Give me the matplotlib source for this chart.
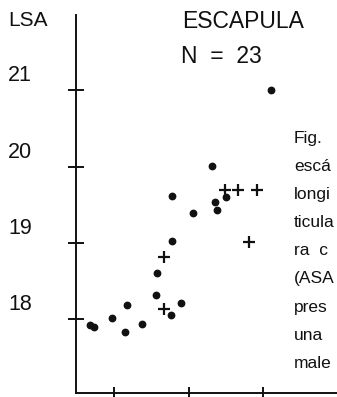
import matplotlib
matplotlib.use("Agg")
import matplotlib.pyplot as plt

# data
dot_x = [0.68, 0.73, 0.97, 1.17, 1.15, 1.38, 1.58, 1.56, 1.77, 1.90, 1.78,
         1.78, 2.06, 2.32, 2.36, 2.38, 2.50, 3.11]
dot_y = [17.92, 17.90, 18.01, 18.18, 17.83, 17.93, 18.60, 18.31, 18.05, 18.21,
         19.02, 19.61, 19.39, 20.01, 19.53, 19.43, 19.60, 21.00]
plus_x = [1.67, 1.67, 2.49, 2.66, 2.92, 2.81]
plus_y = [18.81, 18.13, 19.70, 19.70, 19.70, 19.01]
y_ticks = [18, 19, 20, 21]
x_ticks = [1, 2, 3]
# only the part of the caption that is visible at the right edge
caption = ["Fig.", "escá", "longi", "ticula", "ra  c", "(ASA",
           "pres", "una", "male"]

plt.rcParams["font.family"] = ["Liberation Sans", "DejaVu Sans"]
ink = "#111111"

fig = plt.figure(figsize=(3.37, 3.97), dpi=100)
W, H = 337, 397
ax = fig.add_axes([76 / W, 4 / H, (W - 76) / W, (393 - 15) / H])

ax.plot(dot_x, dot_y, "o", color=ink, markersize=4.6, clip_on=False)
ax.plot(plus_x, plus_y, "+", color=ink, markersize=9, markeredgewidth=1.6,
        clip_on=False)

ax.set_xlim(0.49, 3.99)
ax.set_ylim(17.03, 21.99)
ax.spines["top"].set_visible(False)
ax.spines["right"].set_visible(False)
for s in ("left", "bottom"):
    ax.spines[s].set_linewidth(1.4)
    ax.spines[s].set_color(ink)

ax.set_yticks(y_ticks)
ax.set_xticks(x_ticks)
ax.set_yticklabels([])
ax.set_xticklabels([])
ax.tick_params(axis="y", direction="inout", length=12, width=1.4, color=ink)
ax.tick_params(axis="x", direction="inout", length=9, width=1.4, color=ink)

# tick values sit at the far left, a little above each tick
for v in y_ticks:
    ax.annotate(str(v), xy=(0, v), xycoords=ax.get_yaxis_transform(),
                xytext=(-68 * 0.72, 6.5), textcoords="offset points",
                fontsize=15.5, color=ink, va="baseline", ha="left")

fig.text(8 / W, 1 - 26 / H, "LSA", fontsize=15, color=ink, va="baseline")
fig.text(182 / W, 1 - 28 / H, "ESCAPULA", fontsize=16.5, color=ink,
         va="baseline")
fig.text(181 / W, 1 - 63 / H, "N  =  23", fontsize=16.5, color=ink,
         va="baseline")

for i, line in enumerate(caption):
    fig.text(294 / W, 1 - (143 + 28.1 * i) / H, line, fontsize=12.5,
             color=ink, va="baseline", ha="left")

fig.savefig("out.png", dpi=100)
